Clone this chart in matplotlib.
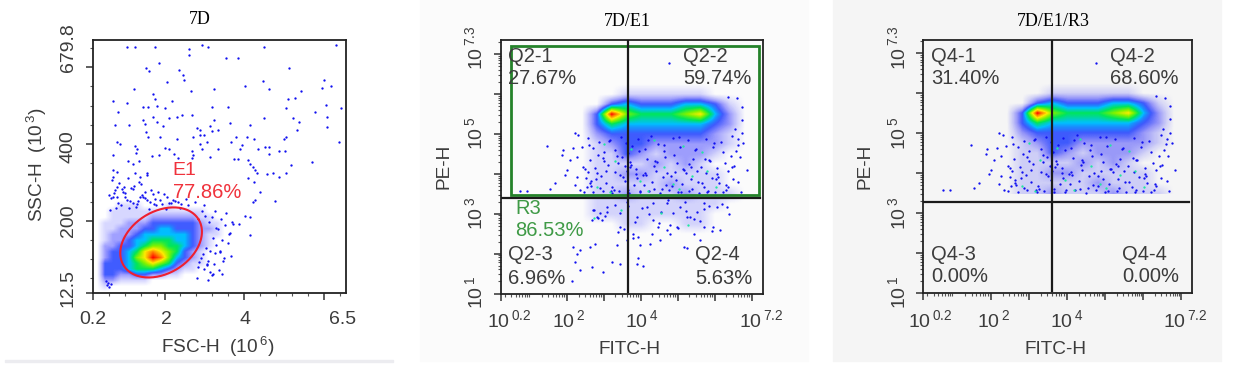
import numpy as np
import matplotlib
matplotlib.use('Agg')
import matplotlib.pyplot as plt
from matplotlib.colors import LinearSegmentedColormap
from matplotlib.patches import Rectangle

plt.rcParams['font.family'] = ['Liberation Sans', 'DejaVu Sans']
plt.rcParams['mathtext.fontset'] = 'custom'
plt.rcParams['mathtext.rm'] = 'Liberation Sans'
plt.rcParams['mathtext.default'] = 'rm'

# panel 1: FSC-H (10^6) / SSC-H (10^3)
fsc_centers = [0.3, 0.5, 0.7, 0.9, 1.1, 1.3, 1.5, 1.7, 1.9, 2.1, 2.3, 2.5, 2.7, 2.9, 3.1, 3.3, 3.5, 3.7]
ssc_centers = [15, 30, 45, 60, 75, 90, 105, 120, 135, 150, 165, 180, 195, 210, 225, 240, 255]
fsc_density = [
    [0, 0, 0, 0, 0, 0, 0, 0, 0, 0, 0, 0, 0, 0, 0, 0, 0, 0],
    [0, 1, 0, 0, 0, 0, 0, 0, 0, 0, 0, 0, 0, 0, 0, 0, 0, 0],
    [0, 2, 2, 1, 1, 1, 1, 0, 0, 0, 0, 0, 0, 0, 0, 0, 0, 0],
    [0, 3, 3, 2, 2, 3, 3, 2, 2, 1, 1, 0, 0, 0, 0, 0, 0, 0],
    [0, 3, 3, 3, 4, 5, 5, 5, 4, 3, 2, 1, 1, 0, 0, 0, 0, 0],
    [0, 3, 3, 3, 4, 5, 6, 7, 6, 5, 3, 2, 1, 1, 0, 0, 0, 0],
    [0, 2, 3, 3, 4, 6, 7, 9, 8, 6, 4, 3, 2, 1, 0, 0, 0, 0],
    [0, 2, 3, 3, 4, 5, 7, 8, 7, 6, 5, 3, 2, 1, 0, 0, 0, 0],
    [0, 2, 2, 3, 3, 4, 5, 6, 6, 5, 5, 4, 3, 2, 1, 0, 0, 0],
    [0, 1, 2, 2, 3, 4, 4, 5, 5, 5, 4, 4, 3, 2, 1, 0, 0, 0],
    [0, 1, 2, 2, 2, 3, 4, 4, 4, 4, 4, 4, 3, 2, 1, 1, 0, 0],
    [0, 1, 1, 2, 2, 2, 3, 3, 4, 4, 3, 3, 3, 2, 2, 1, 0, 0],
    [0, 1, 1, 1, 2, 2, 2, 3, 3, 3, 3, 3, 3, 2, 1, 1, 0, 0],
    [0, 0, 1, 1, 1, 1, 1, 2, 2, 2, 2, 2, 2, 1, 1, 0, 0, 0],
    [0, 0, 1, 1, 1, 1, 1, 1, 1, 1, 1, 1, 1, 1, 0, 0, 0, 0],
    [0, 0, 0, 1, 1, 1, 0, 0, 0, 1, 0, 0, 0, 0, 0, 0, 0, 0],
    [0, 0, 0, 0, 0, 0, 0, 0, 0, 0, 0, 0, 0, 0, 0, 0, 0, 0],
]
fsc_sparse = [1.05, 1.25, 1.75, 2.62, 2.93, 3.10, 2.62, 3.54, 3.84, 6.29, 4.49, 1.87, 5.13, 1.54, 1.60, 2.36, 2.46, 2.49,
              2.07, 4.48, 6.00, 6.17, 5.95, 4.02, 4.61, 5.43, 3.24, 2.67, 1.24, 1.72, 1.75, 5.27, 5.10, 0.72, 1.06, 2.19,
              6.04, 6.43, 1.45, 1.59, 1.82, 2.02, 3.19, 3.59, 5.05, 0.84, 5.78, 6.08, 5.22, 4.49, 1.45, 1.71, 2.10, 2.30,
              2.44, 2.68, 3.24, 5.38, 0.77, 1.12, 1.51, 1.82, 1.97, 3.63, 4.13, 6.08, 3.13, 2.81, 2.89, 3.35, 3.18, 5.32,
              1.53, 1.58, 1.89, 2.32, 2.71, 2.89, 2.99, 3.67, 3.79, 4.06, 4.23, 5.05, 5.00, 6.38, 0.80, 0.89, 1.25, 1.32,
              2.01, 2.10, 2.89, 3.06, 3.35, 3.94, 3.90, 4.35, 4.52, 4.63, 4.88, 5.01, 0.72, 1.29, 1.68, 1.85, 2.24, 2.68,
              2.72, 2.94, 3.14, 3.73, 3.84, 4.10, 4.63, 5.69, 5.17, 1.09, 1.22, 1.37, 2.34, 2.68, 4.15, 4.21, 4.27, 4.31,
              4.56, 4.71, 4.88, 5.05, 0.70, 0.80, 1.26, 1.39, 1.55, 4.10, 4.23, 4.77, 4.40, 4.27, 4.21, 4.15, 4.02, 4.13,
              0.70, 0.75, 0.98, 0.62, 0.80, 1.05, 1.22, 1.39, 1.55, 1.71, 1.89, 2.05, 2.81, 3.47, 3.06, 3.39, 3.22, 3.63,
              3.87, 3.71, 3.54, 3.00, 3.20, 2.95, 3.30,
              0.66, 0.74, 0.83, 0.93, 1.02, 1.14, 1.23, 1.31, 1.44, 1.52, 1.63, 1.77, 1.93, 2.11, 2.27, 2.42,
              0.69, 0.78, 0.87, 0.96, 1.08, 1.17, 1.28, 1.36, 1.47, 1.56, 1.66, 1.79, 1.98, 2.16, 2.33, 2.55,
              0.63, 0.72, 0.81, 0.91, 1.01, 1.11, 1.21, 1.34, 1.42, 1.50, 1.61, 1.73, 1.84, 2.04, 2.22, 2.38, 2.58, 2.76,
              3.02, 3.11, 3.26, 3.33, 3.41, 3.52, 3.61, 3.68, 3.44, 3.29, 3.15, 3.08, 3.38, 3.49, 3.58, 3.66, 3.25, 3.13,
              2.98, 3.04, 3.18, 3.36, 2.87, 2.92, 3.09, 3.21, 2.84, 2.97, 3.07, 3.27, 3.45, 0.58, 0.61, 0.55, 0.67, 0.53]
ssc_sparse = [653, 653, 653, 648, 658, 653, 631, 624, 624, 658, 653, 610, 597, 597, 590, 592, 579, 566,
              561, 565, 566, 552, 546, 552, 542, 539, 542, 539, 542, 529, 517, 520, 516, 512, 507, 512,
              502, 494, 497, 497, 500, 494, 497, 497, 494, 484, 484, 471, 467, 467, 463, 470, 467, 469,
              475, 476, 462, 456, 449, 448, 453, 457, 446, 454, 449, 445, 446, 441, 435, 435, 433, 435,
              432, 418, 418, 413, 418, 423, 423, 406, 418, 418, 413, 418, 414, 404, 404, 399, 395, 388,
              390, 388, 401, 405, 388, 397, 388, 388, 391, 391, 382, 382, 371, 377, 369, 371, 373, 382,
              371, 388, 366, 362, 362, 358, 373, 354, 346, 356, 349, 356, 363, 364, 349, 340, 332, 325,
              321, 324, 314, 325, 332, 327, 323, 314, 323, 310, 301, 251, 275, 253, 248, 210, 211, 163,
              314, 280, 288, 266, 262, 253, 245, 262, 253, 270, 253, 262, 52, 95, 84, 120, 154, 167,
              192, 192, 220, 240, 210, 225, 180,
              258, 271, 246, 283, 262, 252, 291, 243, 268, 276, 249, 256, 243, 247, 252, 244,
              305, 233, 298, 276, 311, 286, 237, 300, 263, 318, 281, 240, 270, 245, 249, 257,
              228, 262, 288, 240, 273, 233, 282, 252, 296, 259, 231, 243, 275, 230, 255, 233, 242, 248,
              212, 196, 225, 178, 204, 188, 166, 197, 150, 138, 122, 95, 118, 102, 143, 108,
              88, 66, 74, 130, 58, 72, 92, 104, 45, 60, 80, 112, 86, 115, 60, 38, 27, 32, 35, 42]
fsc_ticks = [0.2, 2, 4, 6]
fsc_minor = [0.6, 1.0, 1.4, 1.8, 2.4, 2.8, 3.2, 3.6, 4.4, 4.8, 5.2, 5.6, 6.4]
ssc_ticks = [12.5, 200, 400, 600]
ssc_minor = [50, 100, 150, 250, 300, 350, 450, 500, 550, 650]

# panels 2 and 3: log10 of FITC-H / PE-H, panel 3 is the R3 gated part of the same cells
fitc_centers = [1.6, 2.0, 2.4, 2.8, 3.2, 3.6, 4.0, 4.4, 4.8, 5.2, 5.6, 6.0, 6.4, 6.8, 7.2]
pe_centers = [2.5, 2.75, 3.0, 3.25, 3.5, 3.75, 4.0, 4.25, 4.5, 4.75, 5.0, 5.25, 5.5, 5.75, 6.0, 6.25]
fitc_density = [
    [0, 0, 0, 0, 0, 0, 0, 0, 0, 0, 0, 0, 0, 0, 0],
    [0, 0, 0, 0, 0, 1, 1, 0, 0, 1, 1, 0, 0, 0, 0],
    [0, 0, 0, 1, 1, 1, 1, 1, 1, 1, 1, 0, 0, 0, 0],
    [0, 0, 0, 1, 1, 1, 1, 1, 1, 1, 1, 1, 0, 0, 0],
    [0, 0, 0, 1, 1, 2, 1, 1, 1, 2, 1, 1, 1, 0, 0],
    [0, 0, 0, 1, 1, 1, 1, 1, 2, 1, 1, 1, 0, 0, 0],
    [0, 0, 0, 1, 1, 2, 2, 1, 1, 1, 1, 1, 0, 0, 0],
    [0, 0, 0, 1, 1, 1, 1, 2, 1, 2, 1, 0, 0, 0, 0],
    [0, 0, 0, 1, 1, 3, 2, 1, 2, 2, 2, 1, 0, 0, 0],
    [0, 0, 0, 1, 2, 3, 3, 2, 2, 2, 2, 2, 1, 0, 0],
    [0, 0, 0, 2, 3, 3, 3, 3, 3, 3, 3, 2, 1, 0, 0],
    [0, 0, 0, 3, 5, 4, 4, 4, 4, 4, 4, 3, 2, 0, 0],
    [0, 0, 0, 3, 9, 6, 5, 5, 5, 6, 7, 4, 2, 0, 0],
    [0, 0, 0, 0, 3, 4, 3, 3, 3, 4, 4, 3, 1, 0, 0],
    [0, 0, 0, 0, 0, 1, 1, 1, 1, 1, 1, 0, 0, 0, 0],
    [0, 0, 0, 0, 0, 0, 0, 0, 0, 0, 0, 0, 0, 0, 0],
]
fitc_sparse = [4.76, 1.46, 1.89, 1.85, 1.98, 1.94, 1.67, 1.53, 0.72, 0.92, 2.21, 2.30, 2.14, 2.25, 2.07, 2.39, 2.43, 2.25,
               2.21, 2.52, 2.34, 2.61, 6.71, 6.71, 6.76, 6.85, 6.62, 6.69, 6.44, 6.30, 6.71, 6.58, 6.35,
               2.16, 2.25, 2.34, 2.21, 2.34, 2.66, 2.95, 3.20, 3.42, 3.87, 4.05, 3.92, 2.12, 2.61, 2.75, 2.93, 2.79,
               2.70, 2.88, 2.66, 3.33, 3.60, 3.78, 3.96, 4.23, 4.46, 4.68, 4.95, 5.14, 5.23, 5.23, 5.32, 5.68, 5.95,
               6.04, 6.31, 5.68, 5.04, 4.32, 3.87, 3.42, 3.42, 3.06, 4.50, 4.77, 5.41, 5.59, 3.78, 4.14, 4.68, 4.86,
               5.50, 4.32,
               2.55, 2.70, 2.85, 3.00, 3.15, 3.30, 3.45, 3.75, 3.90, 4.10, 4.25, 4.45, 4.60, 4.85, 5.05, 5.25, 5.45,
               5.75, 5.95, 6.15, 2.60, 2.75, 2.95, 3.10, 3.35, 3.70, 3.85, 4.15, 4.35, 4.65, 4.95, 5.15, 5.40, 5.60,
               5.85, 6.05, 6.25, 2.50, 2.65, 2.90, 3.05, 3.25, 3.50, 3.80, 4.05, 4.30, 4.55, 4.80, 5.10, 5.35, 5.70,
               5.90, 6.10, 2.45, 2.70, 2.95, 3.20, 3.40, 3.65, 3.95, 4.20, 4.50, 4.75, 5.00, 5.30, 5.55, 5.80, 6.00,
               6.20, 2.55, 2.80, 3.05, 3.30, 3.60, 3.85, 4.10, 4.40, 4.70, 4.90, 5.20, 5.50, 5.75, 6.05, 6.35, 6.50,
               2.58, 2.83, 3.12, 3.37, 3.58, 3.63, 3.68, 3.93, 4.18, 4.38, 4.62, 4.88, 5.02, 5.28, 5.48, 5.72, 5.97, 6.22,
               2.48, 2.77, 2.98, 3.22, 3.47, 3.57, 3.72, 3.97, 4.12, 4.42, 4.67, 4.93, 5.12, 5.37, 5.63, 5.82, 6.08, 6.33,
               2.63, 2.87, 3.18, 3.43, 3.55, 3.66, 3.88, 4.08, 4.33, 4.58, 4.82, 5.07, 5.33, 5.52, 5.78, 6.02, 6.28, 6.42,
               2.73, 3.02, 3.28, 3.53, 3.62, 3.83, 4.03, 4.28, 4.53, 4.78, 5.18, 5.43, 5.68, 5.92, 6.18, 6.38, 6.56, 6.62,
               2.82, 3.08, 3.38, 3.64, 3.92, 4.22, 4.48, 4.72, 4.98, 5.22, 5.58, 5.83, 6.12, 6.46, 6.52, 6.60, 6.66, 6.48]
pe_sparse = [6.77, 4.70, 4.60, 4.47, 4.09, 3.97, 3.76, 3.63, 3.57, 3.57, 5.01, 4.97, 4.64, 4.43, 4.34, 4.68, 4.18, 3.93,
             3.72, 3.68, 3.59, 3.76, 5.35, 5.01, 4.76, 4.09, 3.80, 3.55, 4.18, 3.72, 5.68, 5.89, 5.93,
             2.17, 2.00, 2.09, 1.79, 1.59, 1.67, 1.54, 1.79, 1.75, 1.75, 1.69, 1.88, 1.31, 2.17, 2.25, 2.84, 2.92,
             3.09, 3.01, 2.84, 2.21, 2.34, 2.38, 2.21, 2.25, 2.67, 2.59, 2.67, 2.17, 2.13, 2.92, 2.92, 2.67, 2.67,
             3.17, 3.17, 3.26, 3.17, 2.84, 2.92, 2.67, 3.01, 3.17, 2.34, 2.50, 2.50, 2.34, 2.50, 3.17, 3.26, 3.01,
             3.05, 3.26,
             4.90, 4.65, 4.80, 4.55, 4.85, 4.60, 4.92, 4.70, 4.88, 4.62, 4.95, 4.75, 4.58, 4.90, 4.68, 4.85, 4.60,
             4.88, 4.66, 4.80, 4.35, 4.15, 4.40, 4.22, 4.45, 4.30, 4.12, 4.38, 4.20, 4.42, 4.28, 4.10, 4.36, 4.18,
             4.32, 4.14, 4.26, 3.90, 3.70, 3.95, 3.78, 3.60, 3.92, 3.72, 3.98, 3.80, 3.62, 3.94, 3.74, 3.86, 3.66,
             3.90, 3.76, 3.55, 3.54, 3.58, 3.52, 3.56, 3.60, 3.53, 3.57, 3.51, 3.59, 3.54, 3.56, 3.52, 3.58, 3.55,
             3.53, 4.05, 4.02, 4.08, 4.04, 4.06, 4.00, 4.03, 4.07, 4.01, 4.05, 4.02, 4.06, 4.03, 3.99, 4.08, 4.20,
             4.72, 4.48, 4.83, 4.27, 4.77, 4.52, 4.16, 4.58, 4.84, 4.33, 4.71, 4.47, 4.91, 4.24, 4.63, 4.37, 4.78, 4.54,
             4.12, 3.88, 4.31, 3.67, 4.41, 3.83, 4.23, 3.58, 3.96, 4.29, 3.71, 3.85, 4.11, 3.63, 3.77, 4.34, 3.92, 3.68,
             3.82, 3.64, 3.57, 3.98, 4.19, 3.52, 3.89, 3.73, 3.61, 3.93, 3.69, 3.55, 4.17, 3.79, 3.54, 3.87, 3.59, 4.44,
             3.10, 2.95, 3.22, 2.62, 3.30, 2.78, 3.15, 2.48, 3.05, 2.72, 3.28, 2.87, 3.12, 2.57, 3.25, 2.98, 4.57, 4.86,
             2.88, 3.03, 2.55, 3.18, 2.42, 2.98, 2.76, 3.35, 2.65, 3.07, 2.82, 3.20, 2.60, 4.95, 5.12, 4.72, 4.42, 3.88]
# cells drawn cyan/green among the blue ones
fitc_mid = [2.98, 3.72, 4.33, 5.12, 5.63, 3.28, 4.62, 5.38, 2.80, 3.95, 4.85, 5.78, 3.15, 4.18, 5.02, 6.02, 2.72, 3.45, 4.52, 5.25]
pe_mid = [4.75, 4.62, 4.85, 4.70, 4.55, 4.32, 4.18, 3.95, 3.68, 3.82, 3.74, 4.06, 3.55, 3.58, 3.62, 3.66, 2.88, 3.10, 3.02, 2.72]
log_ticks = [2, 3, 4, 5, 6, 7]
log_subs = [2, 3, 4, 5, 6, 7, 8, 9]

r3_gate = 3.47
fitc_lim = (0.198, 7.28)
pe_lim = (1.0, 7.35)

fig = plt.figure(figsize=(12.33, 3.70), dpi=100, facecolor='white')


def fx(x):
    return x / 1233.0


def fy(y):
    return 1 - y / 370.0


def label(x, y, s, color='#3c3c3c', size=14, **kw):
    # x, y in picture pixels
    kw.setdefault('ha', 'center')
    kw.setdefault('va', 'center')
    fig.text(fx(x), fy(y), s, color=color, fontsize=size, **kw)


def make_axes(left, right, top, bottom, face):
    ax = fig.add_axes([fx(left), fy(bottom), fx(right - left), (bottom - top) / 370.0], facecolor=face)
    for s in ax.spines.values():
        s.set_linewidth(1.3)
        s.set_color('#222222')
    ax.tick_params(which='major', length=5, width=1.1, color='#333333', labelbottom=False, labelleft=False)
    ax.tick_params(which='minor', length=2.2, width=0.8, color='#555555')
    return ax


density_cmap = LinearSegmentedColormap.from_list('flow', [
    (0, (0, 0, 1, 0)), (1 / 9, (0, 0, 1, 0.16)), (2 / 9, (0, 0, 1, 0.38)), (3 / 9, (0, 0.15, 1, 0.75)),
    (4 / 9, (0, 0.75, 1, 1)), (5 / 9, (0, 0.9, 0.35, 1)), (6 / 9, (0.5, 0.95, 0, 1)), (7 / 9, (1, 0.92, 0, 1)),
    (8 / 9, (1, 0.5, 0, 1)), (1, (1, 0, 0, 1))])


def cloud(ax, xc, yc, dens):
    dx = xc[1] - xc[0]
    dy = yc[1] - yc[0]
    return ax.imshow(np.array(dens, dtype=float), origin='lower', aspect='auto', interpolation='bilinear',
                     extent=[xc[0] - dx / 2, xc[-1] + dx / 2, yc[0] - dy / 2, yc[-1] + dy / 2],
                     cmap=density_cmap, vmin=0, vmax=9, zorder=1)


# background of the pasted panels
fig.patches.append(Rectangle((fx(420), fy(361)), fx(388), 361 / 370.0, transform=fig.transFigure, color='#fbfbfb', zorder=-5))
fig.patches.append(Rectangle((fx(833), fy(361)), fx(388), 361 / 370.0, transform=fig.transFigure, color='#f5f5f5', zorder=-5))
fig.patches.append(Rectangle((fx(5), fy(362)), fx(388), 2 / 370.0, transform=fig.transFigure, color='#ececf0', zorder=-5))

# ---- panel 1
ax1 = make_axes(92.7, 345.7, 39.5, 292.7, 'white')
cloud(ax1, fsc_centers, ssc_centers, fsc_density)
ax1.scatter(fsc_sparse, ssc_sparse, s=2.8, c='#1010f0', linewidths=0, zorder=2)
t = np.linspace(0, 2 * np.pi, 200)
# gate E1, centre and semi axes in data units along x/y before tilting
ex = 1.914 + 1.103 * np.cos(t) * np.cos(0.555) - 0.777 * np.sin(t) * np.sin(0.555)
ey = 143.4 + 132 * 0.8668 * np.cos(t) * np.sin(0.555) + 93 * 0.8668 * np.sin(t) * np.cos(0.555)
ax1.plot(ex, ey, color='#ee2030', lw=1.5, zorder=3)
ax1.set_xlim(0.2, 6.54)
ax1.set_ylim(12.5, 672)
ax1.set_xticks(fsc_ticks)
ax1.set_xticks(fsc_minor, minor=True)
ax1.set_yticks(ssc_ticks)
ax1.set_yticks(ssc_minor, minor=True)

label(93, 319, '0.2')
label(166, 319, '2')
label(245.5, 319, '4')
label(343, 319, '6.5')
label(68, 288, '12.5', rotation=90)
label(68, 221, '200', rotation=90)
label(68, 147, '400', rotation=90)
label(68, 48, '679.8', rotation=90)
label(218, 347, r'FSC-H  (10$^{\,6}$)', size=13.7)
label(37, 165, r'SSC-H  (10$^{\,3}$)', size=13.7, rotation=90)
label(200, 20, '7D', color='black', size=13, family='Liberation Serif')
label(172, 171, 'E1', color='#f0323c', size=14, ha='left')
label(173, 193, '77.86%', color='#f0323c', size=14.5, ha='left')


# ---- panels 2 and 3
def log_axes(left, right, top, bottom, face):
    ax = make_axes(left, right, top, bottom, face)
    ax.set_xlim(*fitc_lim)
    ax.set_ylim(*pe_lim)
    minor = [k + np.log10(m) for k in range(0, 8) for m in log_subs]
    ax.set_xticks([fitc_lim[0]] + log_ticks)
    ax.set_xticks([v for v in minor if fitc_lim[0] < v < fitc_lim[1]], minor=True)
    ax.set_yticks([1] + log_ticks)
    ax.set_yticks([v for v in minor if pe_lim[0] < v < pe_lim[1]], minor=True)
    return ax


fitc = np.array(fitc_sparse)
pe = np.array(pe_sparse)
fitc_m = np.array(fitc_mid)
pe_m = np.array(pe_mid)

ax2 = log_axes(500.7, 762.7, 40, 293.5, '#fbfbfb')
cloud(ax2, fitc_centers, pe_centers, fitc_density)
ax2.scatter(fitc, pe, s=2.8, c='#1010f0', linewidths=0, zorder=2)
ax2.scatter(fitc_m, pe_m, s=2.8, c='#20e8a0', linewidths=0, zorder=2)
ax2.add_patch(Rectangle((0.47, r3_gate), 7.18 - 0.47, 7.19 - r3_gate, fill=False, ec='#24822a', lw=2.0, zorder=3))
ax2.plot([3.65, 3.65], [1.04, pe_lim[1]], color='#1a1a1a', lw=1.6, zorder=4)
ax2.plot([0.2, 7.2], [3.38, 3.38], color='#1a1a1a', lw=1.6, zorder=4)

ax3 = log_axes(923, 1191.7, 39.5, 293, '#f5f5f5')
im = cloud(ax3, fitc_centers, pe_centers, fitc_density)
im.set_clip_path(Rectangle((0, r3_gate), 8, 4, transform=ax3.transData))
ax3.scatter(fitc[pe >= r3_gate], pe[pe >= r3_gate], s=2.8, c='#1010f0', linewidths=0, zorder=2)
ax3.scatter(fitc_m[pe_m >= r3_gate], pe_m[pe_m >= r3_gate], s=2.8, c='#20e8a0', linewidths=0, zorder=2)
ax3.plot([3.61, 3.61], [1.05, pe_lim[1]], color='#1a1a1a', lw=1.6, zorder=4)
ax3.plot([0.23, 7.2], [3.28, 3.28], color='#1a1a1a', lw=1.6, zorder=4)

for off, xt, title in [(420, [88.7, 148, 222, 340.7], '7D/E1'), (833, [97, 160, 234, 352.5], '7D/E1/R3')]:
    for x, e in zip(xt, ['0.2', '2', '4', '7.2']):
        label(off + x, 320, r'10$^{\,%s}$' % e)
    ylab_x = off + (55 if off == 420 else 65)
    for y, e in [(48, '7.3'), (133, '5'), (213, '3'), (293, '1')]:
        label(ylab_x, y, r'10$^{\,%s}$' % e, rotation=90)
    xl = 210 if off == 420 else 222
    label(off + xl, 350, 'FITC-H', size=13.7)
    label(off + (24 if off == 420 else 32), 166, 'PE-H', size=13.7, rotation=90)
    label(off + (207 if off == 420 else 220), 21, title, color='black', size=13, family='Liberation Serif')

# quadrant texts
for x, y, s in [(508, 57, 'Q2-1'), (508, 79, '27.67%'), (683, 57, 'Q2-2'), (683, 79, '59.74%'),
                (508, 255, 'Q2-3'), (508, 279, '6.96%'), (695, 255, 'Q2-4'), (695, 279, '5.63%'),
                (931, 56, 'Q4-1'), (931, 78, '31.40%'), (1110, 56, 'Q4-2'), (1110, 78, '68.60%'),
                (931, 254, 'Q4-3'), (931, 277, '0.00%'), (1122, 254, 'Q4-4'), (1122, 277, '0.00%')]:
    label(x, y, s, ha='left', size=14.5)
label(515, 208, 'R3', color='#3f9a46', ha='left', size=14.5)
label(515, 230, '86.53%', color='#3f9a46', ha='left', size=14.5)

fig.savefig('out.png', dpi=100)
